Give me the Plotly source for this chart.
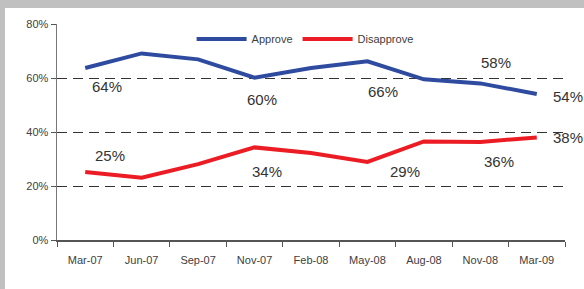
import plotly.graph_objects as go

categories = ["Mar-07", "Jun-07", "Sep-07", "Nov-07", "Feb-08", "May-08", "Aug-08", "Nov-08", "Mar-09"]
approve = [63.7, 69.1, 66.9, 60.1, 63.7, 66.2, 59.5, 58.0, 54.1]
disapprove = [25.2, 23.1, 28.1, 34.3, 32.2, 28.9, 36.5, 36.3, 38.0]
y_ticks = [0, 20, 40, 60, 80]
y_tick_labels = ["0%", "20%", "40%", "60%", "80%"]

# data labels: (category index, text)
approve_labels = [(0, "64%"), (3, "60%"), (5, "66%"), (7, "58%"), (8, "54%")]
disapprove_labels = [(0, "25%"), (3, "34%"), (5, "29%"), (7, "36%"), (8, "38%")]
# pixel offsets of labels relative to the point
approve_offsets = [(22, -18), (7, -22), (16, -30), (16, 21), (31, -3)]
disapprove_offsets = [(25, 16), (12, -24), (38, -10), (19, -20), (31, 0)]

BLUE = "#2f4b9f"
RED = "#ec1c24"
TXT = "#404040"
LBL = "#333333"

fig = go.Figure()
fig.add_trace(go.Scatter(x=categories, y=approve, mode="lines", name="Approve",
                         line=dict(color=BLUE, width=4)))
fig.add_trace(go.Scatter(x=categories, y=disapprove, mode="lines", name="Disapprove",
                         line=dict(color=RED, width=4)))

annotations = []
for (i, t), (dx, dy) in zip(approve_labels, approve_offsets):
    annotations.append(dict(x=categories[i], y=approve[i], text=t, showarrow=False,
                            xshift=dx, yshift=dy, font=dict(size=15, color=LBL)))
for (i, t), (dx, dy) in zip(disapprove_labels, disapprove_offsets):
    annotations.append(dict(x=categories[i], y=disapprove[i], text=t, showarrow=False,
                            xshift=dx, yshift=dy, font=dict(size=15, color=LBL)))

W, H = 584, 289
L, R, T, B = 57, 19, 24, 49
pw, ph = W - L - R, H - T - B

def px_to_paper_x(px):
    return (px - L) / pw

def px_to_paper_y(py):
    return (H - B - py) / ph

shapes = [
    dict(type="rect", xref="paper", yref="paper", layer="below",
         x0=px_to_paper_x(0), x1=px_to_paper_x(5), y0=px_to_paper_y(H), y1=px_to_paper_y(0),
         fillcolor="#c0c0c0", line=dict(width=0)),
    dict(type="rect", xref="paper", yref="paper", layer="below",
         x0=px_to_paper_x(0), x1=px_to_paper_x(W), y0=px_to_paper_y(8), y1=px_to_paper_y(0),
         fillcolor="#c0c0c0", line=dict(width=0)),
]

fig.update_layout(
    width=W, height=H,
    margin=dict(l=L, r=R, t=T, b=B),
    paper_bgcolor="white", plot_bgcolor="white",
    font=dict(family="Liberation Sans, Arial, sans-serif", size=11, color=TXT),
    showlegend=True,
    legend=dict(orientation="h", x=0.265, y=0.93, xanchor="left", yanchor="middle",
                font=dict(size=11, color=TXT), itemwidth=50, bgcolor="rgba(0,0,0,0)",
                tracegroupgap=0),
    annotations=annotations,
    shapes=shapes,
    xaxis=dict(type="category", range=[-0.5, 8.5], tickson="boundaries",
               ticks="outside", ticklen=5, tickcolor="#555", showgrid=False,
               showline=True, linecolor="#555", linewidth=1.5, ticklabelstandoff=9,
               tickfont=dict(size=11, color=TXT), fixedrange=True),
    yaxis=dict(range=[0, 80], tickvals=y_ticks, ticktext=y_tick_labels,
               ticks="outside", ticklen=5, tickcolor="#555",
               showgrid=True, gridcolor="#333", gridwidth=1, griddash="10px,6px",
               showline=True, linecolor="#777", linewidth=1.5, zeroline=False,
               tickfont=dict(size=11, color=TXT), fixedrange=True),
)

fig.write_html("out.html", config={"displayModeBar": False, "staticPlot": True},
               post_script="document.body.style.margin='0';document.body.style.padding='0';"
                           "document.body.style.overflow='hidden';")
